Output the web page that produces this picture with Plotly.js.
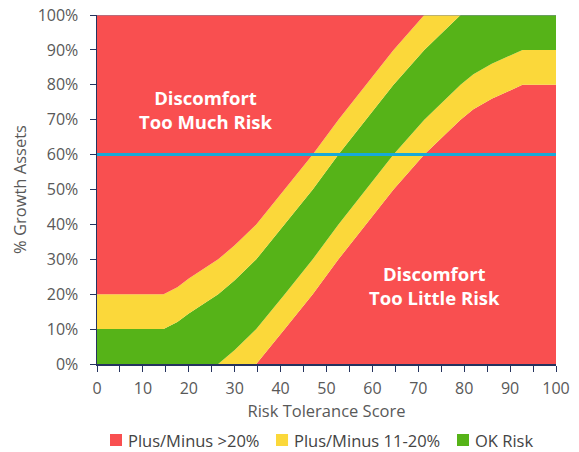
<!DOCTYPE html>
<html>
<head>
<meta charset="utf-8">
<script src="https://cdn.plot.ly/plotly-3.0.1.min.js"></script>
<style>html,body{margin:0;padding:0;background:#fff;}#chart{width:579px;height:452px;}</style>
</head>
<body>
<div id="chart"></div>
<script>
// Risk tolerance score (x) and the centre of the "OK Risk" band (% growth assets)
const scores = [0, 14.5, 17.5, 20, 26.4, 30, 34.7, 40.9, 47, 52.6, 58.6, 64.6, 71.3, 79.2, 82, 86, 92.7, 100];
const centre = [0, 0, 2, 4.5, 10, 14, 20, 30, 40, 50, 60, 70, 80, 90, 93, 96, 100, 100];
// half-widths of the bands (percentage points)
const okHalfWidth = 10;
const warnHalfWidth = 20;
const currentAllocation = 60; // horizontal line
const seriesNames = ["Plus/Minus >20%", "Plus/Minus 11-20%", "OK Risk"];
const colors = {red: "#f94f50", yellow: "#fbd83a", green: "#56b318", line: "#17a9d8"};
const seriesColors = [colors.red, colors.yellow, colors.green];
const labelTop = ["Discomfort", "Too Much Risk"];
const labelBottom = ["Discomfort", "Too Little Risk"];

const clip = v => Math.max(0, Math.min(100, v));
const lower2 = centre.map(c => clip(c - warnHalfWidth));
const lower1 = centre.map(c => clip(c - okHalfWidth));
const upper1 = centre.map(c => clip(c + okHalfWidth));
const upper2 = centre.map(c => clip(c + warnHalfWidth));
const ceilingY = centre.map(() => 100);

function band(y, color, fill, name) {
  return {x: scores, y: y, type: 'scatter', mode: 'lines', line: {width: 0, color: color},
          fill: fill, fillcolor: color, showlegend: false, hoverinfo: 'skip', name: name};
}
const traces = [
  band(lower2, colors.red, 'tozeroy', seriesNames[0]),
  band(lower1, colors.yellow, 'tonexty', seriesNames[1]),
  band(upper1, colors.green, 'tonexty', seriesNames[2]),
  band(upper2, colors.yellow, 'tonexty', seriesNames[1]),
  band(ceilingY, colors.red, 'tonexty', seriesNames[0]),
  {x: [0, 100], y: [currentAllocation, currentAllocation], type: 'scatter', mode: 'lines',
   line: {color: colors.line, width: 3}, showlegend: false, cliponaxis: false, hoverinfo: 'skip'}
];

// legend drawn as paper-positioned swatches + labels (one row, like the reference)
const legendX = [0.0283, 0.390, 0.7843];   // left edge of each swatch (paper fraction)
const swatchW = 0.0262, legendY = -0.2178, swatchHalfH = 0.0172;
const legendShapes = seriesNames.map((n, i) => ({
  type: 'rect', xref: 'paper', yref: 'paper', x0: legendX[i], x1: legendX[i] + swatchW,
  y0: legendY - swatchHalfH, y1: legendY + swatchHalfH, fillcolor: seriesColors[i], line: {width: 0}
}));
const legendLabels = seriesNames.map((n, i) => ({
  xref: 'paper', yref: 'paper', x: legendX[i] + swatchW + 0.008, y: legendY, xanchor: 'left', yanchor: 'middle',
  text: n, showarrow: false, font: {size: 16.5, color: '#444', family: 'Open Sans, sans-serif'}
}));

const axisColor = '#25335f';
const layout = {
  width: 579, height: 452,
  margin: {l: 97, r: 23, t: 15, b: 88, autoexpand: false},
  paper_bgcolor: '#fff', plot_bgcolor: '#fff',
  font: {family: 'Open Sans, sans-serif', size: 16, color: '#595959'},
  showlegend: false,
  xaxis: {range: [0, 100], dtick: 10, tick0: 0, ticks: 'outside', ticklen: 6, tickcolor: axisColor,
          showline: true, linecolor: axisColor, linewidth: 1.5, showgrid: false, zeroline: false,
          minor: {dtick: 5, ticks: 'outside', ticklen: 6, tickcolor: axisColor},
          ticklabelstandoff: 3, automargin: false,
          title: {text: 'Risk Tolerance Score', font: {size: 16.5, color: '#595959'}, standoff: 5},
          tickfont: {size: 16, color: '#595959'}},
  yaxis: {range: [0, 100], dtick: 10, ticksuffix: '%', ticks: 'outside', ticklen: 6, tickcolor: axisColor,
          showline: true, linecolor: axisColor, linewidth: 1.5, showgrid: false, zeroline: false,
          ticklabelstandoff: 8, automargin: false,
          title: {text: '% Growth Assets', font: {size: 16.5, color: '#595959'}, standoff: 7},
          tickfont: {size: 16, color: '#595959'}},
  shapes: [{type: 'line', xref: 'paper', yref: 'y', x0: 0, x1: 1, y0: 100, y1: 100,
            line: {color: '#7d8aa6', width: 1}}].concat(legendShapes),
  annotations: [
    {x: 23.7, y: 73, xref: 'x', yref: 'y', text: labelTop.join('<br>'), showarrow: false,
     font: {size: 18.5, color: '#fff', family: 'Open Sans, sans-serif', weight: 'bold'}, align: 'center'},
    {x: 73.6, y: 22.5, xref: 'x', yref: 'y', text: labelBottom.join('<br>'), showarrow: false,
     font: {size: 18.5, color: '#fff', family: 'Open Sans, sans-serif', weight: 'bold'}, align: 'center'}
  ].concat(legendLabels)
};

Plotly.newPlot('chart', traces, layout, {displayModeBar: false, staticPlot: true});
</script>
</body>
</html>
